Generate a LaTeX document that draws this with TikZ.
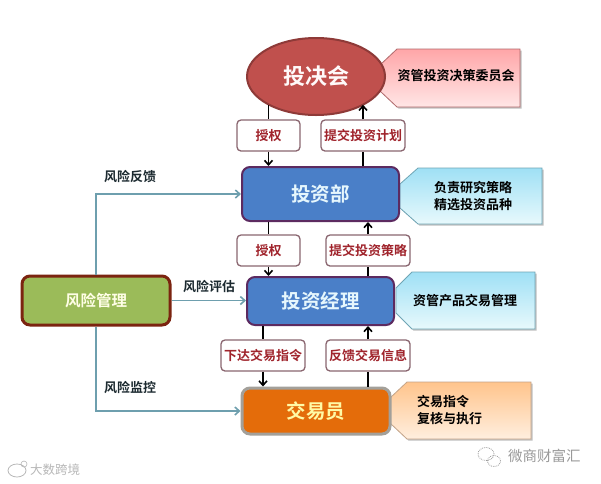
\documentclass[tikz,border=0pt]{standalone}
\usepackage{fontspec}
\setmainfont{Noto Sans CJK SC}[BoldFont={Noto Sans CJK SC Bold}]
\usetikzlibrary{arrows.meta,shapes.geometric,calc}
\definecolor{redfill}{HTML}{C0504D}
\definecolor{redline}{HTML}{8E3A38}
\definecolor{bluefill}{HTML}{4A7FC8}
\definecolor{purpline}{HTML}{5C2A60}
\definecolor{greenfill}{HTML}{9BBB59}
\definecolor{brownline}{HTML}{7B2410}
\definecolor{orangefill}{HTML}{E46C0A}
\definecolor{greyline}{HTML}{A3A09A}
\definecolor{labelline}{HTML}{8A6670}
\definecolor{labeltext}{HTML}{A0242C}
\definecolor{tealline}{HTML}{6E9FAE}
\definecolor{darktext}{HTML}{1C2A30}
\definecolor{wmark}{HTML}{9A9A9A}
\definecolor{pinktop}{HTML}{FFA6A8}
\definecolor{pinkbot}{HTML}{FFE6E6}
\definecolor{pinkedge}{HTML}{B06A6C}
\definecolor{cyantop}{HTML}{9FE0F5}
\definecolor{cyanbot}{HTML}{E8F9FC}
\definecolor{cyanedge}{HTML}{6FA5B5}
\definecolor{ambertop}{HTML}{FFC48C}
\definecolor{amberbot}{HTML}{FFEFDF}
\definecolor{amberedge}{HTML}{C4A488}
\tikzset{
  rolebox/.style={rectangle,rounded corners=8pt,line width=2pt,inner sep=0pt,align=center},
  stepbox/.style={rectangle,draw=labelline,fill=white,rounded corners=4pt,line width=1.3pt,inner sep=0pt,
    minimum height=31pt,text=labeltext,font=\bfseries\fontsize{13}{15}\selectfont},
  notetext/.style={inner sep=0pt,align=left,text=black,font=\bfseries\fontsize{13}{17}\selectfont},
  risktext/.style={inner sep=0pt,text=darktext,font=\bfseries\fontsize{13}{15}\selectfont},
  ctl/.style={line width=1.8pt,draw=black,-{Straight Barb[length=4.5pt,width=8pt,line width=1.6pt]}},
  ctlplain/.style={line width=1.8pt,draw=black},
  riskflow/.style={line width=1.8pt,draw=tealline,-{Straight Barb[length=4.5pt,width=8pt,line width=1.6pt]}},
}
\newcommand{\notepoly}[7]{% tipx x1 x2 y1 y2 tipinset colourspec
  \fill[black!25] (#2+1.5,#4+1.5) -- (#3+1.5,#4+1.5) -- (#3+1.5,#5+1.5) -- (#2+1.5,#5+1.5) -- (#1+1.5,#5-#6+1.5) -- (#1+1.5,#4+#6+1.5) -- cycle;
  \path[#7,line width=0.8pt] (#2,#4) -- (#3,#4) -- (#3,#5) -- (#2,#5) -- (#1,#5-#6) -- (#1,#4+#6) -- cycle;
}
\begin{document}
\begin{tikzpicture}[x=1pt,y=-1pt]
\useasboundingbox (0,0) rectangle (601,483);
\fill[white] (0,0) rectangle (601,483);

% callouts
\notepoly{380}{397}{520}{49}{107}{16}{top color=pinktop,bottom color=pinkbot,draw=pinkedge}
\notepoly{400}{418}{542}{168}{224}{16}{top color=cyantop,bottom color=cyanbot,draw=cyanedge}
\notepoly{396}{412}{535}{272}{329}{16}{top color=cyantop,bottom color=cyanbot,draw=cyanedge}
\notepoly{390}{407}{531}{382}{439}{16}{top color=ambertop,bottom color=amberbot,draw=amberedge}

% main nodes
\node[ellipse,draw=redline,fill=redfill,line width=2pt,inner sep=0pt,minimum width=138pt,minimum height=77pt,
  text=white!92!pink,font=\bfseries\fontsize{22}{24}\selectfont] (council) at (316,76.5) {投决会};
\node[rolebox,draw=purpline,fill=bluefill,minimum width=157pt,minimum height=54pt,text=white!90!cyan,
  font=\bfseries\fontsize{19.5}{22}\selectfont] (dept) at (320.5,194) {投资部};
\node[rolebox,draw=purpline,fill=bluefill,minimum width=147pt,minimum height=48pt,text=white!90!cyan,
  font=\bfseries\fontsize{19.5}{22}\selectfont] (manager) at (320.5,301) {投资经理};
\node[rolebox,draw=greyline,line width=3pt,fill=orangefill,minimum width=148pt,minimum height=46pt,text=yellow!35!white,
  font=\bfseries\fontsize{19.5}{22}\selectfont] (trader) at (316,411) {交易员};
\node[rolebox,draw=brownline,line width=3pt,fill=greenfill,minimum width=148pt,minimum height=49pt,text=white!90!yellow,
  font=\bfseries\fontsize{15.5}{18}\selectfont] (risk) at (96,300.5) {风险管理};

% step labels
\node[stepbox,minimum width=63pt] (grantA) at (268.5,135.5) {授权};
\node[stepbox,minimum width=84pt] (planA) at (363,135.5) {提交投资计划};
\node[stepbox,minimum width=63pt] (grantB) at (268.5,250.5) {授权};
\node[stepbox,minimum width=84pt] (planB) at (368,250.5) {提交投资策略};
\node[stepbox,minimum width=84pt] (order) at (263,355.5) {下达交易指令};
\node[stepbox,minimum width=84pt] (report) at (368,355.5) {反馈交易信息};

% black flows
\draw[ctlplain] (council.210 -| grantA.north) -- (grantA.north);
\draw[ctl] (grantA.south) -- (grantA.south |- dept.north);
\draw[ctlplain] (dept.north -| planA.south) -- (planA.south);
\draw[ctl] (planA.north) -- (council.330 -| planA.north);
\draw[ctlplain] (dept.south -| grantB.north) -- (grantB.north);
\draw[ctl] (grantB.south) -- (grantB.south |- manager.north);
\draw[ctlplain] (manager.north -| planB.south) -- (planB.south);
\draw[ctl] (planB.north) -- (planB.north |- dept.south);
\draw[ctlplain] (manager.south -| order.north) -- (order.north);
\draw[ctl] (order.south) -- (order.south |- trader.north);
\draw[ctlplain] (trader.north -| report.south) -- (report.south);
\draw[ctl] (report.north) -- (report.north |- manager.south);

% risk flows
\draw[riskflow] (risk.north) |- (dept.west);
\draw[riskflow] (risk.east) -- (risk.east -| manager.west);
\draw[riskflow] (risk.south) |- (trader.west);

\node[risktext] (rfeedback) at (130,177) {风险反馈};
\node[risktext] (rassess) at (209,287) {风险评估};
\node[risktext] (rmonitor) at (130,388) {风险监控};

% note texts
\node[notetext] (noteA) at (456,76) {资管投资决策委员会};
\node[notetext,align=center] (noteB) at (473,196.5) {负责研究策略\\精选投资品种};
\node[notetext] (noteC) at (465,301) {资管产品交易管理};
\node[notetext,anchor=west] (noteD) at (417,410) {交易指令\\复核与执行};

% watermarks
\node[inner sep=0pt,anchor=west,text=wmark,font=\fontsize{14.5}{16}\selectfont] (wmR) at (508,456) {微商财富汇};
\node[inner sep=0pt,anchor=west,text=wmark!70,font=\fontsize{12.5}{14}\selectfont] (wmL) at (30,470) {大数跨境};
\draw[wmark!70,line width=0.8pt] (17,470.5) ellipse (9pt and 6.5pt);
\draw[wmark!70,line width=0.6pt] (24,464) circle (3pt);
\draw[wmark,densely dotted,line width=0.8pt] (486,454) ellipse (8pt and 6.5pt);
\draw[wmark,densely dotted,line width=0.8pt] (494,461) ellipse (6.5pt and 5.5pt);
\end{tikzpicture}
\end{document}
